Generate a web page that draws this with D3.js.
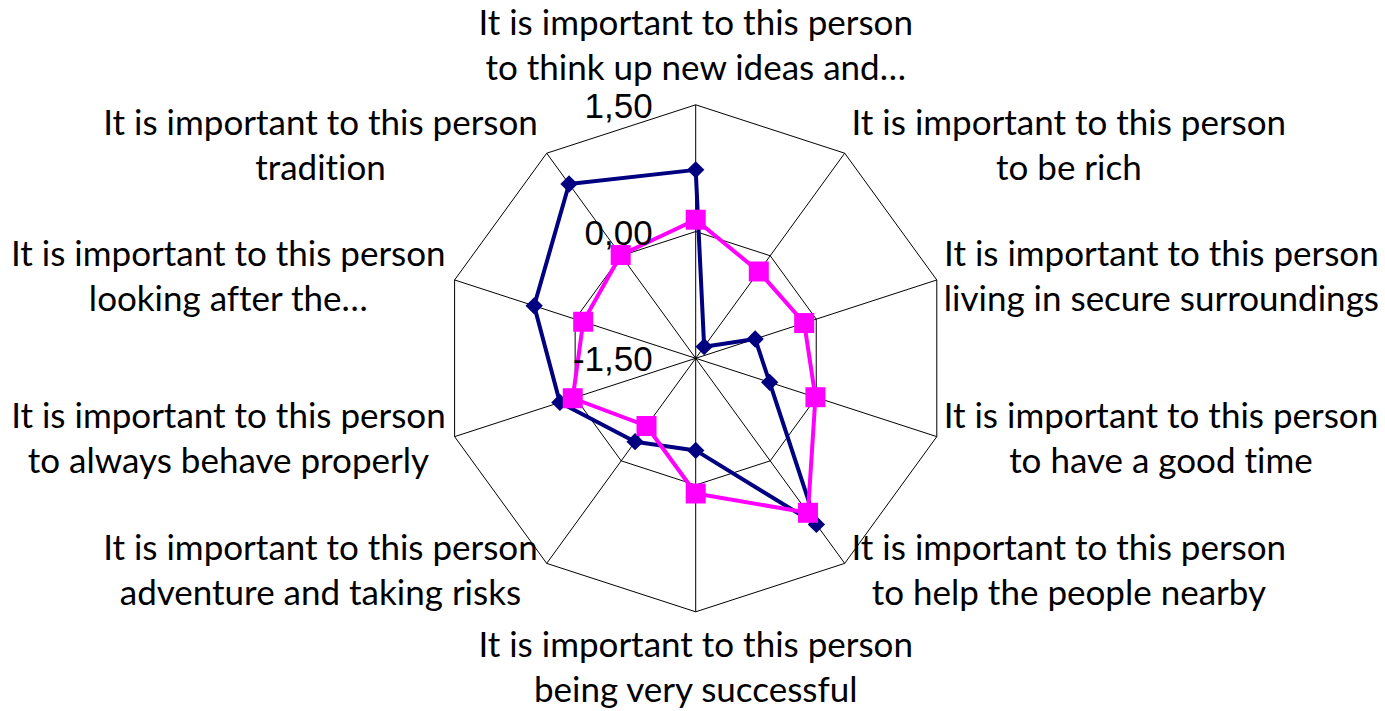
<!DOCTYPE html>
<html lang="en">

<head>
	<meta charset="UTF-8">
	<script src="https://cdn.jsdelivr.net/npm/d3@7"></script>
	<title>Radar chart - values</title>
</head>
<style>
	body {
		margin: 0;
		background: #fff;
	}

	.axis-label {
		font-family: Lato, "Noto Sans", sans-serif;
		font-size: 35px;
		font-variant-ligatures: none;
		fill: #000;
	}

	.tick-label {
		font-family: "Liberation Sans", Arial, sans-serif;
		font-size: 35px;
		fill: #000;
	}
</style>

<body>
	<svg id="radar" width="1385" height="711"></svg>
	<script>
		// categories (clockwise from the top), each split into two lines
		const categories = [
			['It is important to this person', 'to think up new ideas and…'],
			['It is important to this person', 'to be rich'],
			['It is important to this person', 'living in secure surroundings'],
			['It is important to this person', 'to have a good time'],
			['It is important to this person', 'to help the people nearby'],
			['It is important to this person', 'being very successful'],
			['It is important to this person', 'adventure and taking risks'],
			['It is important to this person', 'to always behave properly'],
			['It is important to this person', 'looking after the…'],
			['It is important to this person', 'tradition']
		];
		// series values
		const seriesA = [0.73, -1.33, -0.76, -0.58, 0.93, -0.41, -0.28, 0.19, 0.51, 1.05];
		const seriesB = [0.14, -0.23, -0.15, -0.01, 0.76, 0.10, -0.51, 0.03, -0.10, 0.01];
		const ticks = [-1.5, 0, 1.5];
		const tickLabels = ['-1,50', '0,00', '1,50'];

		const cx = 695.7, cy = 358.3, R = 253.5;
		const svg = d3.select('#radar');

		const r = d3.scaleLinear().domain([-1.5, 1.5]).range([0, R]);
		const angle = d3.scaleLinear().domain([0, categories.length]).range([0, 2 * Math.PI]);

		const g = svg.append('g').attr('transform', `translate(${cx},${cy})`);

		// x/y for a value on axis i
		const px = (i, v) => r(v) * Math.sin(angle(i));
		const py = (i, v) => -r(v) * Math.cos(angle(i));

		// grid: decagons at tick values (except the center) and spokes
		const idx = d3.range(categories.length);
		ticks.filter(t => t > -1.5).forEach(t => {
			g.append('path')
				.attr('d', d3.line()(idx.map(i => [px(i, t), py(i, t)])) + 'Z')
				.attr('fill', 'none')
				.attr('stroke', '#000')
				.attr('stroke-width', 1);
		});
		g.selectAll('.spoke')
			.data(idx)
			.enter()
			.append('line')
			.attr('class', 'spoke')
			.attr('x1', 0).attr('y1', 0)
			.attr('x2', i => px(i, 1.5))
			.attr('y2', i => py(i, 1.5))
			.attr('stroke', '#000')
			.attr('stroke-width', 1);

		// series lines and markers
		const radarLine = d3.line()
			.x((d, i) => px(i, d))
			.y((d, i) => py(i, d))
			.curve(d3.curveLinearClosed);

		function drawSeries(values, color, size, rotate) {
			g.append('path')
				.attr('d', radarLine(values))
				.attr('fill', 'none')
				.attr('stroke', color)
				.attr('stroke-width', 4)
				.attr('stroke-linejoin', 'round');
			g.selectAll(null)
				.data(values)
				.enter()
				.append('path')
				.attr('d', d3.symbol().type(d3.symbolSquare).size(size))
				.attr('transform', (d, i) => `translate(${px(i, d)},${py(i, d)}) rotate(${rotate})`)
				.attr('fill', color);
		}
		drawSeries(seriesA, '#000080', 150, 45); // diamonds
		drawSeries(seriesB, '#FF00FF', 400, 0);  // squares

		// value axis labels
		g.selectAll('.tick-label')
			.data(ticks)
			.enter()
			.append('text')
			.attr('class', 'tick-label')
			.attr('x', -43)
			.attr('y', d => -r(d) + 13)
			.attr('text-anchor', 'end')
			.text((d, i) => tickLabels[i]);

		// category labels
		const lineH = 45;
		idx.forEach(i => {
			const a = angle(i);
			const vx = px(i, 1.5), vy = py(i, 1.5);
			const s = Math.sin(a), c = Math.cos(a);
			const t = g.append('text').attr('class', 'axis-label').attr('text-anchor', 'middle');
			const lines = categories[i];
			t.selectAll('tspan').data(lines).enter().append('tspan').text(d => d);
			// width of the widest line decides the block centre
			const w = d3.max(t.selectAll('tspan').nodes(), n => n.getComputedTextLength());
			let x, y0;
			if (Math.abs(s) < 0.1) {
				x = vx;
				y0 = c > 0 ? vy - 25 - lineH : vy + 45;
			} else {
				x = s > 0 ? vx + 7 + w / 2 : vx - 9 - w / 2;
				y0 = vy - 11 - 9 * c;
			}
			t.selectAll('tspan')
				.attr('x', x)
				.attr('y', (d, k) => y0 + k * lineH);
		});
	</script>
</body>

</html>
